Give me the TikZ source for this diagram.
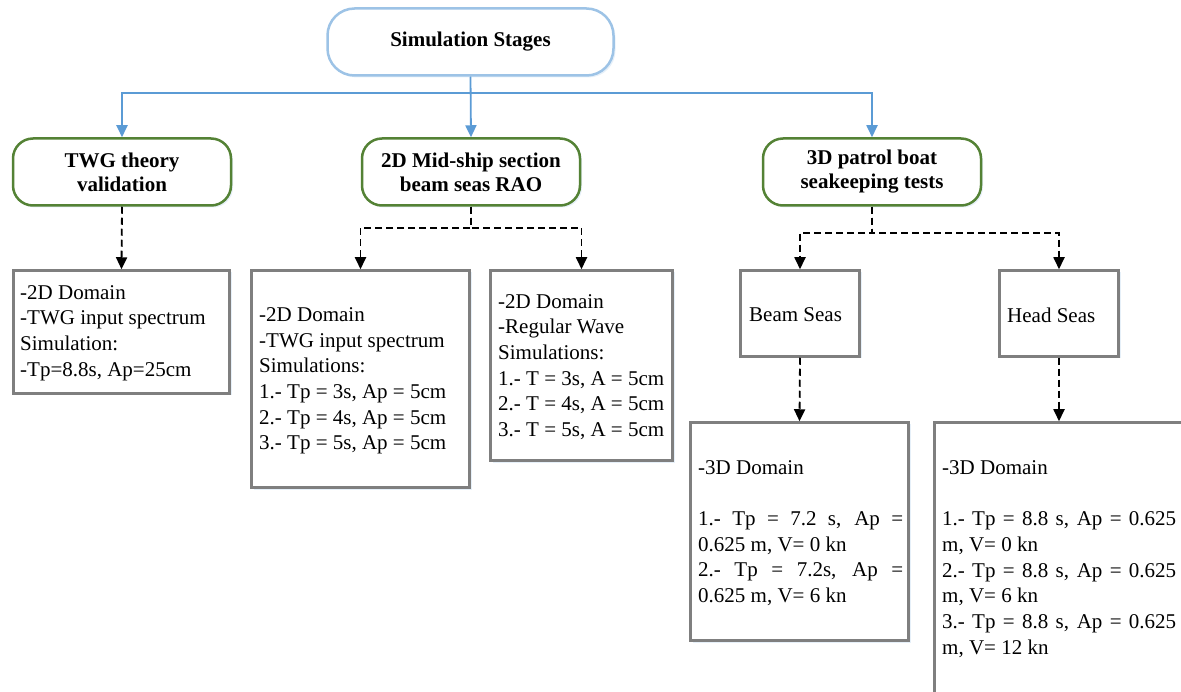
\documentclass[tikz,border=0pt]{standalone}
\usepackage{fontspec}
\setmainfont{Liberation Serif}
\newfontfamily\tnr{Liberation Serif}
\usetikzlibrary{arrows.meta,shadows}
\definecolor{lineblue}{HTML}{5B9BD5}
\definecolor{topblue}{HTML}{9DC3E6}
\definecolor{stagegreen}{HTML}{548235}
\definecolor{boxgray}{HTML}{7F7F7F}
\begin{document}
\begin{tikzpicture}[x=1pt,y=-1pt,
  every node/.style={inner sep=0pt},
  softshadow/.style={drop shadow={shadow xshift=2pt,shadow yshift=-2pt,opacity=0.25,fill=topblue}},
  topnode/.style={draw=topblue, line width=2.5pt, rounded corners=27pt, fill=white, softshadow,
    minimum width=286pt, minimum height=67pt, font=\tnr\fontsize{21}{25}\selectfont\bfseries},
  stage/.style={draw=stagegreen, line width=2.5pt, rounded corners=20pt, fill=white, softshadow,
    minimum width=218pt, minimum height=67pt, align=center, font=\tnr\fontsize{21}{24}\selectfont\bfseries},
  box/.style={draw=boxgray, line width=2.5pt, fill=white, softshadow},
  txt/.style={anchor=west, align=left, font=\tnr\fontsize{21}{25.7}\selectfont},
  blueline/.style={draw=lineblue, line width=1.8pt},
  bluearrow/.style={blueline, -{Triangle[length=12pt,width=11pt]}},
  dasharrow/.style={draw=black, line width=1.8pt, dash pattern=on 7pt off 4pt, -{Triangle[length=12pt,width=11pt]}}
]
\useasboundingbox (0,0) rectangle (1181,692);
\clip (0,0) rectangle (1181,692);

% top node
\node[topnode] (top) at (470.5,42) {Simulation Stages};

% stage nodes
\node[stage] (g1) at (122,172) {TWG theory\\validation};
\node[stage] (g2) at (471,172) {2D Mid-ship section\\beam seas RAO};
\node[stage] (g3) at (872,172) {3D patrol boat\\seakeeping tests};

% boxes
\node[box, minimum width=216pt, minimum height=123pt] (b1) at (121.5,332) {};
\node[box, minimum width=218pt, minimum height=217pt] (b2) at (360.5,379) {};
\node[box, minimum width=182pt, minimum height=190pt] (b3) at (581.5,365.5) {};
\node[box, minimum width=119pt, minimum height=86pt] (bs) at (800,313.5) {};
\node[box, minimum width=119pt, minimum height=86pt] (hs) at (1059,313.5) {};
\node[box, minimum width=218pt, minimum height=218pt] (bd) at (799.5,531.5) {};
\node[box, minimum width=249pt, minimum height=271pt] (hd) at (1059,558) {};

% texts
\node[txt] (t1) at (20,333) {-2D Domain\\-TWG input spectrum\\Simulation:\\-Tp=8.8s, Ap=25cm};
\node[txt] (t2) at (259,381) {-2D Domain\\-TWG input spectrum\\Simulations:\\1.- Tp = 3s, Ap = 5cm\\2.- Tp = 4s, Ap = 5cm\\3.- Tp = 5s, Ap = 5cm};
\node[txt] (t3) at (498,367) {-2D Domain\\-Regular Wave\\Simulations:\\1.- T = 3s, A = 5cm\\2.- T = 4s, A = 5cm\\3.- T = 5s, A = 5cm};
\node[txt] (tbs) at (749,315) {Beam Seas};
\node[txt] (ths) at (1007,315) {Head Seas};
\node[txt] (tbd) at (698,533) {-3D Domain\\[25.7pt]\makebox[205pt][s]{1.- Tp = 7.2 s, Ap =}\\0.625 m, V= 0 kn\\\makebox[205pt][s]{2.- Tp = 7.2s, Ap =}\\0.625 m, V= 6 kn};
\node[txt] (thd) at (942,559) {-3D Domain\\[25.7pt]\makebox[234pt][s]{1.- Tp = 8.8 s, Ap = 0.625}\\m, V= 0 kn\\\makebox[234pt][s]{2.- Tp = 8.8 s, Ap = 0.625}\\m, V= 6 kn\\\makebox[234pt][s]{3.- Tp = 8.8 s, Ap = 0.625}\\m, V= 12 kn};

% blue connectors
\draw[bluearrow] (top.south) -- ++(0,16) -| (g1.north);
\draw[bluearrow] (top.south) -- ++(0,16) -| (g3.north);
\draw[bluearrow] (top.south) -- (g2.north);

% dashed connectors
\draw[dasharrow] (g1.south) -- (b1.north);
\draw[dasharrow] (g2.south) -- ++(0,21) -| (b2.north);
\draw[dasharrow] (g2.south) -- ++(0,21) -| (b3.north);
\draw[dasharrow] (g3.south) -- ++(0,26) -| (bs.north);
\draw[dasharrow] (g3.south) -- ++(0,26) -| (hs.north);
\draw[dasharrow] (bs.south) -- (bd.north);
\draw[dasharrow] (hs.south) -- (hd.north);
\end{tikzpicture}
\end{document}
